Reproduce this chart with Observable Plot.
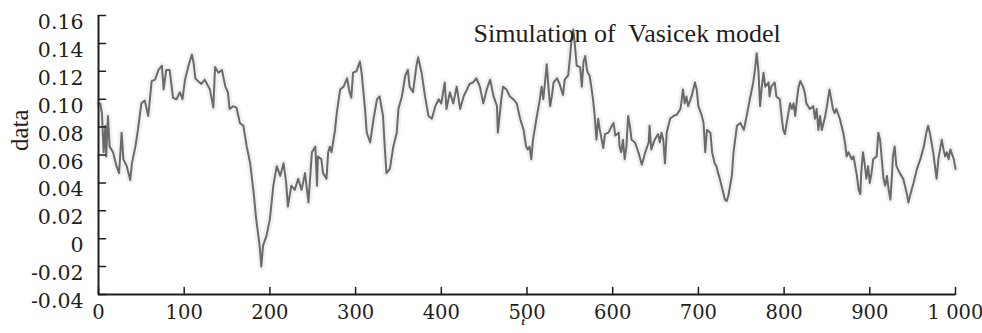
<!DOCTYPE html>
<html><head><meta charset="utf-8">
<script src="https://cdn.jsdelivr.net/npm/d3@7"></script>
<script src="https://cdn.jsdelivr.net/npm/@observablehq/plot@0.6"></script>
<style>
html,body{margin:0;padding:0;background:#fff;}
</style>
</head><body><div id="chart"></div>
<script>
const title = "Simulation of  Vasicek model";
const xLabel = "t";
const yLabel = "data";
const xTicks = [0,100,200,300,400,500,600,700,800,900,1000];
const xTickLabels = ["0","100","200","300","400","500","600","700","800","900","1 000"];
const yTicks = [-0.04,-0.02,0,0.02,0.04,0.06,0.08,0.10,0.12,0.14,0.16];
const yTickLabels = ["-0.04","-0.02","0","0.02","0.04","0.06","0.08","0.10","0.12","0.14","0.16"];
// [t, simulated rate]
const series = [
[0,.097],[2,.097],[4,.090],[6,.062],[8,.081],[9,.059],[11,.088],[13,.066],[17,.062],[21,.052],
[24,.047],[27,.076],[29,.057],[33,.052],[37,.042],[39,.054],[43,.066],[46,.078],[50,.097],[54,.099],
[58,.088],[60,.100],[62,.113],[66,.114],[70,.121],[74,.124],[76,.107],[79,.121],[83,.121],[87,.101],
[91,.100],[95,.105],[98,.100],[101,.114],[105,.124],[109,.132],[111,.126],[113,.115],[116,.113],[120,.111],
[124,.114],[130,.107],[134,.094],[136,.123],[140,.119],[144,.121],[148,.109],[151,.105],[153,.093],[157,.095],
[161,.094],[165,.083],[169,.081],[173,.066],[177,.054],[181,.033],[184,.014],[188,-.005],[190,-.020],[192,-.005],
[196,.002],[200,.014],[204,.038],[208,.052],[212,.045],[216,.054],[219,.040],[221,.023],[225,.038],[229,.035],
[233,.043],[237,.035],[241,.047],[245,.026],[249,.062],[253,.066],[255,.038],[256,.059],[260,.057],[262,.047],
[266,.043],[268,.062],[270,.066],[272,.062],[276,.078],[278,.090],[282,.107],[286,.109],[290,.115],[293,.105],
[295,.101],[297,.119],[301,.120],[305,.127],[307,.119],[311,.093],[313,.076],[317,.069],[321,.086],[325,.100],
[328,.102],[332,.088],[334,.066],[336,.047],[340,.050],[344,.066],[348,.076],[350,.093],[354,.102],[358,.117],
[361,.121],[363,.109],[367,.105],[371,.124],[373,.130],[377,.119],[381,.102],[385,.088],[389,.086],[393,.095],
[397,.100],[400,.097],[404,.112],[406,.093],[410,.105],[414,.097],[418,.109],[422,.093],[426,.102],[430,.107],
[433,.111],[437,.112],[441,.115],[445,.109],[449,.097],[453,.107],[457,.114],[461,.102],[465,.095],[466,.076],
[470,.100],[472,.109],[476,.107],[480,.102],[484,.100],[488,.097],[492,.086],[496,.078],[499,.066],[501,.064],
[503,.066],[505,.057],[507,.071],[511,.086],[515,.100],[517,.109],[519,.100],[521,.112],[523,.125],[525,.109],
[527,.095],[529,.102],[531,.112],[535,.115],[538,.111],[542,.103],[544,.114],[548,.117],[550,.129],[552,.143],
[554,.150],[556,.138],[558,.124],[562,.123],[564,.109],[566,.127],[568,.131],[570,.121],[571,.119],[573,.117],
[575,.109],[577,.100],[579,.088],[581,.071],[583,.086],[585,.078],[589,.065],[591,.075],[595,.076],[599,.081],
[601,.083],[603,.074],[607,.076],[608,.066],[610,.062],[612,.071],[614,.057],[616,.066],[618,.088],[620,.081],
[622,.071],[626,.069],[630,.062],[634,.053],[638,.062],[642,.069],[643,.081],[645,.064],[649,.071],[653,.075],
[655,.069],[657,.076],[659,.071],[661,.054],[663,.076],[667,.086],[671,.088],[675,.089],[679,.093],[680,.097],
[682,.107],[684,.097],[686,.102],[688,.095],[692,.102],[696,.112],[698,.107],[700,.095],[704,.088],[706,.083],
[708,.062],[710,.078],[714,.076],[716,.062],[719,.054],[721,.052],[723,.047],[725,.043],[727,.038],[731,.028],
[733,.027],[735,.031],[739,.045],[741,.062],[745,.081],[749,.083],[753,.078],[756,.087],[760,.100],[764,.112],
[766,.121],[768,.133],[770,.121],[772,.095],[774,.109],[776,.119],[778,.109],[782,.112],[783,.102],[785,.109],
[789,.112],[791,.102],[795,.100],[797,.088],[799,.078],[801,.075],[803,.083],[807,.097],[809,.093],[811,.097],
[813,.088],[815,.100],[817,.109],[819,.113],[822,.109],[824,.105],[826,.097],[830,.093],[834,.095],[836,.086],
[838,.093],[840,.078],[842,.088],[844,.078],[848,.088],[850,.095],[853,.107],[855,.100],[857,.093],[859,.090],
[861,.093],[865,.086],[867,.081],[869,.076],[871,.069],[873,.059],[875,.062],[879,.057],[881,.059],[883,.052],
[885,.045],[887,.035],[889,.032],[890,.047],[892,.062],[894,.054],[896,.043],[898,.052],[900,.040],[902,.047],
[904,.057],[908,.059],[910,.076],[912,.071],[914,.057],[916,.043],[918,.038],[920,.045],[922,.035],[924,.028],
[926,.047],[927,.059],[929,.066],[931,.052],[935,.047],[939,.043],[941,.038],[943,.033],[945,.026],[947,.031],
[951,.040],[955,.050],[959,.057],[963,.066],[966,.076],[968,.081],[970,.076],[974,.062],[976,.052],[978,.043],
[980,.057],[982,.064],[984,.071],[986,.064],[988,.059],[990,.062],[992,.057],[994,.064],[998,.057],[1000,.050]
];
const tickShape = {draw(context, l) { context.moveTo(0, 0); context.lineTo(0, -l); }};
const ink = "#1e1e1e";
const chart = Plot.plot({
  width: 982, height: 333,
  marginLeft: 98, marginRight: 27, marginTop: 15, marginBottom: 39,
  style: {background: "#fff", color: ink},
  x: {domain: [0, 1000], axis: null},
  y: {domain: [-0.04, 0.16], axis: null},
  marks: [
    Plot.line(series, {x: d => d[0], y: d => d[1], stroke: "#e8e8e8", strokeWidth: 7, strokeOpacity: 0.6}),
    Plot.line(series, {x: d => d[0], y: d => d[1], stroke: "#6a6a6a", strokeWidth: 2}),
    Plot.ruleX([0], {stroke: ink, strokeWidth: 2}),
    Plot.ruleY([-0.04], {stroke: ink, strokeWidth: 2}),
    Plot.vector(yTicks, {y: d => d, frameAnchor: "left", rotate: 90, length: 7, anchor: "start", shape: tickShape, stroke: ink, strokeWidth: 1.5}),
    Plot.vector(xTicks, {x: d => d, frameAnchor: "bottom", length: 7, anchor: "start", shape: tickShape, stroke: ink, strokeWidth: 1.5}),
    Plot.text(yTicks, {y: d => d, text: (d, i) => yTickLabels[i], frameAnchor: "left", textAnchor: "end", dx: -15, dy: 7, fontSize: 20.5}),
    Plot.text(xTicks, {x: d => d, text: (d, i) => xTickLabels[i], frameAnchor: "bottom", lineAnchor: "top", dy: 11, fontSize: 19.5}),
    Plot.text([yLabel], {frameAnchor: "left", dx: -79, dy: -4, rotate: -90, fontSize: 25}),
    Plot.text([xLabel], {frameAnchor: "bottom", dx: -4, dy: 30, fontSize: 11, fontStyle: "italic", fontWeight: "bold"}),
    Plot.text([title], {frameAnchor: "top-left", dx: 375, dy: 8, textAnchor: "start", fontSize: 26})
  ]
});
// digits use DejaVu Serif (serif digits are guaranteed there); words use Liberation Serif
const wordStack = "'Liberation Serif', 'DejaVu Serif', serif";
const digitStack = "'DejaVu Serif', serif";
chart.removeAttribute("font-family");
chart.removeAttribute("font-variant");
chart.style.setProperty("font-family", wordStack, "important");
chart.querySelectorAll("g").forEach(el => { el.removeAttribute("font-family"); el.removeAttribute("font-variant"); });
chart.querySelectorAll("text").forEach(el => {
  el.removeAttribute("font-family");
  const isNumber = /^[-0-9. ]+$/.test(el.textContent);
  el.style.setProperty("font-family", isNumber ? digitStack : wordStack, "important");
});
document.getElementById("chart").appendChild(chart);
</script>
</body></html>
